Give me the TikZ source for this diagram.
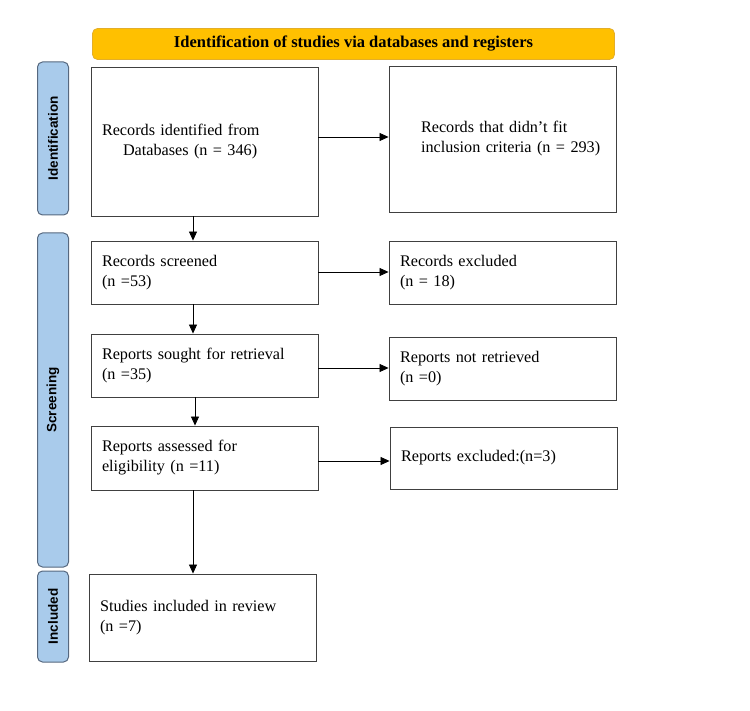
\documentclass[tikz,border=0pt]{standalone}
\usepackage{fontspec}
\setmainfont{Liberation Serif}
\setsansfont{Liberation Sans}
\usepackage{xcolor}
\usetikzlibrary{shapes,arrows,positioning,calc,arrows.meta}

\definecolor{bannerfill}{HTML}{FFC000}
\definecolor{bannerline}{HTML}{E3AE2A}
\definecolor{phasefill}{HTML}{A9CBEB}
\definecolor{phaseline}{HTML}{56687F}

\tikzset{
    flowbox/.style={draw=black!75, line width=0.9pt, inner sep=0pt, align=left,
        font=\fontsize{16.2}{20}\selectfont},
    phase/.style={draw=phaseline, fill=phasefill, line width=1pt, rounded corners=5pt,
        minimum width=31pt, inner sep=0pt},
    phasetext/.style={rotate=90, font=\sffamily\bfseries\fontsize{13.5}{15}\selectfont},
    flow/.style={-{Triangle[length=9pt,width=8pt]}, line width=0.8pt, black}
}

\begin{document}
\begin{tikzpicture}[x=1pt,y=-1pt]
    \useasboundingbox (0,0) rectangle (750,711);

    % Banner
    \node[draw=bannerline, fill=bannerfill, rounded corners=5pt, line width=0.8pt,
        minimum width=522pt, minimum height=31pt, inner sep=0pt,
        font=\bfseries\fontsize{16.5}{18}\selectfont] (banner) at (353.5,44)
        {Identification of studies via databases and registers};

    % Phases on the left
    \node[phase, minimum height=153pt] (idphase) at (53,138.5) {};
    \node[phasetext] at (idphase) {Identification};
    \node[phase, minimum height=334pt] (scphase) at (53,400) {};
    \node[phasetext] at (scphase) {Screening};
    \node[phase, minimum height=91pt] (inphase) at (53,616.5) {};
    \node[phasetext] at (inphase) {Included};

    % Left column
    \node[flowbox, minimum width=227pt, minimum height=149pt, text width=205pt] (identified) at (204.5,141.5)
        {Records identified from\\\hspace*{21pt}Databases (n = 346)};
    \node[flowbox, minimum width=227pt, minimum height=63pt, text width=205pt] (screened) at (204.5,272.5)
        {Records screened\\(n =53)};
    \node[flowbox, minimum width=227pt, minimum height=63pt, text width=205pt] (sought) at (204.5,365.5)
        {Reports sought for retrieval\\(n =35)};
    \node[flowbox, minimum width=227pt, minimum height=64pt, text width=205pt] (assessed) at (204.5,458)
        {Reports assessed for\\eligibility (n =11)};
    \node[flowbox, minimum width=227pt, minimum height=87pt, text width=205pt] (included) at (202.5,617.5)
        {Studies included in review\\(n =7)};

    % Right column
    \node[flowbox, minimum width=227pt, minimum height=146pt, text width=205pt] (nofit) at (502.5,139)
        {\hspace*{21pt}Records that didn't fit\\\hspace*{21pt}inclusion criteria (n = 293)};
    \node[flowbox, minimum width=227pt, minimum height=63pt, text width=205pt] (excluded) at (502.5,272.5)
        {Records excluded\\(n = 18)};
    \node[flowbox, minimum width=227pt, minimum height=63pt, text width=205pt] (notretr) at (502.5,368.5)
        {Reports not retrieved\\(n =0)};
    \node[flowbox, minimum width=227pt, minimum height=62pt, text width=205pt] (repexcl) at (503.5,458)
        {Reports excluded:(n=3)};

    % Arrows down
    \draw[flow] (identified.south -| 193,0) -- (screened.north -| 193,0);
    \draw[flow] (screened.south -| 193,0) -- (sought.north -| 193,0);
    \draw[flow] (sought.south -| 195,0) -- (assessed.north -| 195,0);
    \draw[flow] (assessed.south -| 193,0) -- (included.north -| 193,0);

    % Arrows right
    \draw[flow] (identified.east |- 0,137) -- (nofit.west |- 0,137);
    \draw[flow] (screened.east |- 0,272) -- (excluded.west |- 0,272);
    \draw[flow] (sought.east |- 0,368) -- (notretr.west |- 0,368);
    \draw[flow] (assessed.east |- 0,461) -- (repexcl.west |- 0,461);
\end{tikzpicture}
\end{document}
